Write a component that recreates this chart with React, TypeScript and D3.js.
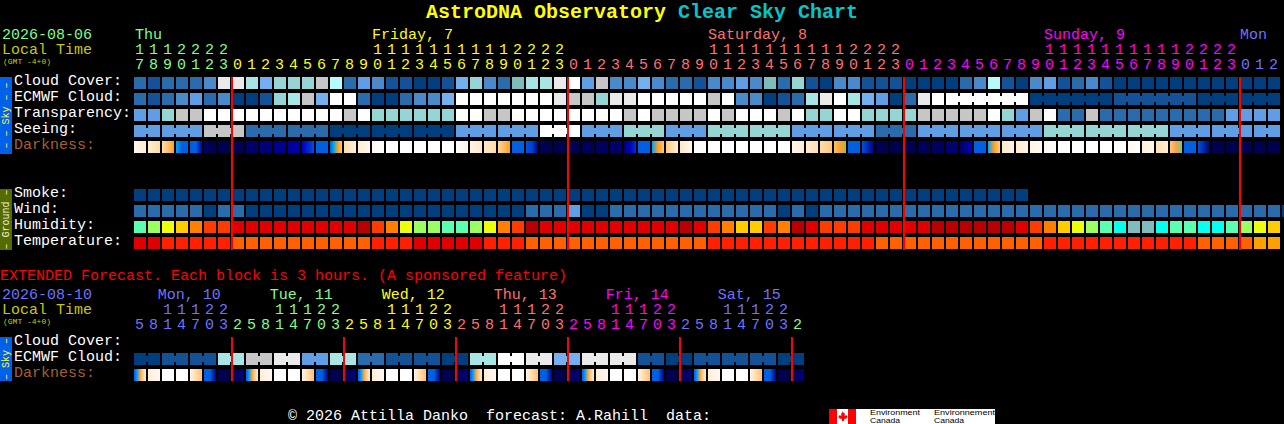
import React from "react";
import * as d3 from "d3";

// ---- palette keys (cloud / transparency / seeing share one scale)
const cloudKeys = ["a","b","c","d","e","f","g","h","i","j","k","l","w"];
const cloudColors = ["#003e7e","#135296","#2a6bac","#4a8acb","#5f9ee4","#74b0f0","#7fbdbd","#95d5d3","#a8e6e6","#b6fbfb","#c6c6c6","#eaeaea","#ffffff"];
const humidKeys = ["c","m","l","y","g","o","r","R","D","t"];
const humidColors = ["#08ffee","#5affb0","#9aff60","#ecff10","#ffcc00","#ff8000","#ff3c00","#e00000","#b80000","#80bcbc"];
const tempKeys = ["R","r","o","p"];
const tempColors = ["#e00000","#ff2000","#ff6000","#ffa000"];

// ---- main forecast (82 hourly columns, starts at 17h)
const startHours = [17,18,19,20,21,22,23,0,1,2,3,4,5,6,7,8,9,10,11,12,13,14,15,16,17,18,19,20,21,22,23,0,1,2,3,4,5,6,7,8,9,10,11,12,13,14,15,16,17,18,19,20,21,22,23,0,1,2,3,4,5,6,7,8,9,10,11,12,13,14,15,16,17,18,19,20,21,22,23,0,1,2];
const hourDayColors = ["#80ff80","#ffff00","#ff7070","#ff00ff","#7070ff"];
const midnightIdx = [7,31,55,79];
const cloudCover = "c b c c c d l l i f h h h k j c e d b b a a b f h d c g i i l w e k d d f d c c b d d e d g c h b a d d b b b a a a a c d j b a d e b c d b a a a a a a a a a a a a".split(" ");
const ecmwf = "c b c d e c d a a b h i k f w w c a a c d d f w w w w w w w l k k h l l w w w w w k w d d a b c i l w i f e a c l w w w w w w w a a a a a a b b b b b b a a a a a a".split(" ");
const ecmwfBlocks = [1,1,1,1,1,1,1,1,1,1,1,1,1,1,1,1,1,1,1,1,1,1,1,1,1,1,1,1,1,1,1,1,1,1,1,1,1,1,1,1,1,1,1,1,1,1,1,1,1,1,1,1,1,1,1,1,1,1,6,6,6,3,3];
const transparency = "e e h k k w w w w w w w w w w k w h h h h h h w w k k w w w w w w w w k w k k k k w k w w w k w h h w w h h h h k k k k k w h e k w c c k c c c c c c c c c e e e e".split(" ");
const seeingBlockVals = "e e k c c a a a e e w e h e h h e e c e e e h h h e e e".split(" ");
const seeingBlocks = [2,3,3,3,3,3,3,3,3,3,3,3,3,3,3,3,3,3,3,3,3,3,3,3,3,3,3,2];
const darkness = [
 "fff8ec ffeed4","ffeed2 ffdcaa","ffdca8 ffc070 ffa020","00a0ff 0060e0 0060e0","0060e0 0060e0 0000a0","000060 000050","000050","000058",
 "000068","000078","00008a","0000a0","0000c0 0020d0 0050e0","0060e0","0060e0 00b0e0 ffa020 ffc870","ffdcaa fff0dc","ffeed4 fff8ec","fff8f0 ffffff",
 "ffffff","ffffff","ffffff","ffffff","ffffff","ffffff fff5e8","fff4e4 ffe8c8","ffeacb ffdcaa","ffd8a0 ffa020","0060e0","0050e0 0040d0 000080","000050","000050","000050",
 "000058","000060","000068","000070 0000c0 0030d0","0060e0","00a0ff ffa020 ffc870","ffcc80 fff0d8","ffe8c8 fff8f0","ffffff","ffffff","ffffff","ffffff","ffffff","ffffff","ffffff",
 "fff6e8 ffecd8","ffedd0 ffdfb8","ffdca8 ffc880","ffc060 ffa030 a0c040","0060e0","0050e0 000080","000050","000050","000050","000058","000060","000070","000060 0000c0","0060e0",
 "00a0ff ffa020 ffd080","fdebc8 fff4e4","ffecd0 fff4e4","fff4e4 fffaf2","fffaf2 ffffff","ffffff","ffffff","ffffff","ffffff","ffffff","fff8ee ffffff","ffefd8 fff8ee","ffe0b0 ffefd8",
 "ffc880 ffa040 60d0a0","0060e0","0050e0 000060","000050","000050","000050","000050","000050"
];
const smoke = "a a a a a a a a a a a a a a a a a a a a a a a a a a a a a a a a a a a a a a a a a a a a a a a a a a a a a a a a a a a a a a a a".split(" ");
const wind = "c c c c c a c c a a a a a a a a a a a a a a a a a a a a c c c e a a c c c c c c c c c c c c a c a c c c c c c c c c c c c c c c c c c c c c c c c c c c c c c c c c a a".split(" ");
const humidity = "m l y g o r r R R R R R R R R R D r o y l l m m l y o r D R R R R R R R R R R D R r o g g r o D R r r r R R R R R D D D D D D R r o g y l m c t t c m m c c m l y g".split(" ");
const temperature = "R R r r r r r o o o o o o o o o o r r r R R R R R r r r o o o o o o o o o o o o o r r r r r r r r r r r r o o o o o o o o o o o o r r r r r r r r r r r o o o o p p".split(" ");

const dayLabels = ["Thu","Friday, 7","Saturday, 8","Sunday, 9","Mon"];
const dayLabelIdx = [0,17,41,65,79];

// ---- extended forecast (48 three-hourly columns)
const extHours = [5,8,11,14,17,20,23,2,5,8,11,14,17,20,23,2,5,8,11,14,17,20,23,2,5,8,11,14,17,20,23,2,5,8,11,14,17,20,23,2,5,8,11,14,17,20,23,2];
const extDayColors = ["#7070ff","#80ff80","#ffff00","#ff7070","#ff00ff","#7070ff","#80ff80"];
const extMidnightIdx = [7,15,23,31,39,47];
const extDayLabels = ["Mon, 10","Tue, 11","Wed, 12","Thu, 13","Fri, 14","Sat, 15"];
const extDayLabelIdx = [1.7,9.7,17.7,25.7,33.7,41.7];
const extEcmwfBlockVals = "a b b i k l e i c b b a i w l f l l b a b b b a".split(" ");
const extBlocks = [2,2,2,2,2,2,2,2,2,2,2,2,2,2,2,2,2,2,2,2,2,2,2,2];
const dkS = "0060e0 00a0ff ffa040 ffd090 ffeed0";
const dkM = "ffeed8 fff8f0";
const dkW = "ffffff";
const dkE = "fff4e4 ffdca8 ffc070";
const dkT = "0060e0 0060e0 000090";
const dkN = "000050";
const dkP = "000050 000080";
const extDarkness = [dkS,dkM,dkW,dkW,dkE,dkT,dkN,dkP,dkS,dkM,dkW,dkW,dkE,dkT,dkN,dkP,dkS,dkM,dkW,dkW,dkE,dkT,dkN,dkP,dkS,dkM,dkW,dkW,dkE,dkT,dkN,dkP,dkS,dkM,dkW,dkW,dkE,dkT,dkN,dkP,dkS,dkM,dkW,dkW,dkE,dkT,dkN,dkP];

const W = 1284, H = 424;
const CELL = 12, PITCH = 14, X0 = 134;
const FONT = "'Liberation Mono', monospace";
const x = d3.scaleLinear().domain([0, 1]).range([X0, X0 + PITCH]);
const rowY = d3.scaleLinear().domain([0, 1]).range([77, 93]);
const groundY = d3.scaleLinear().domain([0, 1]).range([189, 205]);
const extY = d3.scaleLinear().domain([0, 1]).range([337, 353]);

const cloudScale = d3.scaleOrdinal<string, string>().domain(cloudKeys).range(cloudColors);
const humidScale = d3.scaleOrdinal<string, string>().domain(humidKeys).range(humidColors);
const tempScale = d3.scaleOrdinal<string, string>().domain(tempKeys).range(tempColors);

function expand(vals: string[], lengths: number[]) {
  const out: string[] = [];
  lengths.forEach((n, k) => { for (let j = 0; j < n; j++) out.push(vals[k]); });
  return out;
}
// true where a column is joined to its right neighbour (same forecast block)
function links(lengths: number[]) {
  const out: boolean[] = [];
  lengths.forEach((n) => { for (let j = 0; j < n; j++) out.push(j < n - 1); });
  return out;
}

function Row({ values, y, scale, joins }: { values: string[]; y: number; scale: (k: string) => string; joins?: boolean[] }) {
  return (
    <g>
      {values.map((v, i) => (
        <g key={i}>
          <rect x={x(i)} y={y} width={CELL} height={CELL} fill={scale(v)} />
          {joins && joins[i] && <rect x={x(i) + CELL} y={y + 3} width={PITCH - CELL} height={CELL - 6} fill={scale(v)} />}
        </g>
      ))}
    </g>
  );
}

function DarkRow({ cells, y, id }: { cells: string[]; y: number; id: string }) {
  return (
    <g>
      <defs>
        {cells.map((c, i) => {
          const parts = c.split(" ");
          if (parts.length < 2) return null;
          return (
            <linearGradient key={i} id={`${id}${i}`} x1="0" x2="1" y1="0" y2="0">
              {parts.map((p, j) => <stop key={j} offset={j / (parts.length - 1)} stopColor={`#${p}`} />)}
            </linearGradient>
          );
        })}
      </defs>
      {cells.map((c, i) => {
        const parts = c.split(" ");
        return <rect key={i} x={x(i)} y={y} width={CELL} height={CELL} fill={parts.length < 2 ? `#${parts[0]}` : `url(#${id}${i})`} />;
      })}
    </g>
  );
}

function T({ x: tx, y, fill, children, size = 15, anchor = "start", weight = "normal" }: any) {
  return <text x={tx} y={y} fill={fill} fontSize={size} fontFamily={FONT} textAnchor={anchor} fontWeight={weight} style={{ whiteSpace: "pre" }}>{children}</text>;
}

function Hours({ hours, colorAt, y10, y1 }: { hours: number[]; colorAt: (i: number) => string; y10: number; y1: number }) {
  return (
    <g>
      {hours.map((h, i) => (
        <g key={i}>
          {h >= 10 && <T x={x(i) + 5.5} y={y10} fill={colorAt(i)} anchor="middle">{Math.floor(h / 10)}</T>}
          <T x={x(i) + 5.5} y={y1} fill={colorAt(i)} anchor="middle">{h % 10}</T>
        </g>
      ))}
    </g>
  );
}

function Side({ y, h, fill, color, label }: { y: number; h: number; fill: string; color: string; label: string }) {
  const cy = y + h / 2;
  return (
    <g>
      <rect x={0} y={y} width={12} height={h} fill={fill} />
      <text transform={`translate(9,${cy}) rotate(-90)`} fill={color} fontSize={10} fontFamily={FONT} textAnchor="middle" style={{ whiteSpace: "pre" }}>{label}</text>
    </g>
  );
}

const mainLabels = ["Cloud Cover:", "ECMWF Cloud:", "Transparency:", "Seeing:", "Darkness:"];
const groundLabels = ["Smoke:", "Wind:", "Humidity:", "Temperature:"];
const extLabels = ["Cloud Cover:", "ECMWF Cloud:", "Darkness:"];
const BROWN = "#a5602e";

export default function App() {
  const mainColor = (i: number) => hourDayColors[d3.bisectRight(midnightIdx, i)];
  const extColor = (i: number) => extDayColors[d3.bisectRight(extMidnightIdx, i)];
  return (
    <svg width={W} height={H} viewBox={`0 0 ${W} ${H}`} style={{ position: "fixed", left: 0, top: 0, display: "block" }}>
      <rect width={W} height={H} fill="#000" />
      <T x={426} y={18} fill="#ffff00" size={20} weight="bold">AstroDNA Observatory</T>
      <T x={678} y={18} fill="#00c8c8" size={20} weight="bold">Clear Sky Chart</T>

      <T x={2} y={39} fill="#80ff80">2026-08-06</T>
      <T x={2} y={54} fill="#c8c800">Local Time</T>
      <T x={3} y={64} fill="#c8c800" size={8}>(GMT -4+0)</T>
      {dayLabels.map((d, k) => <T key={d} x={x(dayLabelIdx[k]) + (k === 0 ? 1 : 0)} y={39} fill={hourDayColors[k]}>{d}</T>)}
      <Hours hours={startHours} colorAt={mainColor} y10={54} y1={69} />

      <Side y={77} h={77} fill="#0060e8" color="#ffff40" label="– – Sky – –" />
      {mainLabels.map((l, k) => <T key={l} x={14} y={rowY(k) + 8} fill={k === 4 ? BROWN : "#ffffff"}>{l}</T>)}
      <Row values={cloudCover} y={rowY(0)} scale={cloudScale} />
      <Row values={ecmwf} y={rowY(1)} scale={cloudScale} joins={links(ecmwfBlocks)} />
      <Row values={transparency} y={rowY(2)} scale={cloudScale} />
      <Row values={expand(seeingBlockVals, seeingBlocks)} y={rowY(3)} scale={cloudScale} joins={links(seeingBlocks)} />
      <DarkRow cells={darkness} y={rowY(4)} id="dk" />

      <Side y={189} h={61} fill="#556b00" color="#f0f0d0" label="– Ground –" />
      {groundLabels.map((l, k) => <T key={l} x={14} y={groundY(k) + 8} fill="#ffffff">{l}</T>)}
      <Row values={smoke} y={groundY(0)} scale={cloudScale} />
      <Row values={wind} y={groundY(1)} scale={cloudScale} />
      <Row values={humidity} y={groundY(2)} scale={humidScale} />
      <Row values={temperature} y={groundY(3)} scale={tempScale} />

      {midnightIdx.map((i) => <rect key={i} x={x(i) - 1} y={77} width={2} height={173} fill="#ff0000" />)}

      <T x={0} y={280} fill="#ff0000">EXTENDED Forecast. Each block is 3 hours. (A sponsored feature)</T>
      <T x={2} y={299} fill="#7070ff">2026-08-10</T>
      <T x={2} y={314} fill="#c8c800">Local Time</T>
      <T x={3} y={324} fill="#c8c800" size={8}>(GMT -4+0)</T>
      {extDayLabels.map((d, k) => <T key={d} x={x(extDayLabelIdx[k])} y={299} fill={extDayColors[k]}>{d}</T>)}
      <Hours hours={extHours} colorAt={extColor} y10={314} y1={329} />

      <Side y={337} h={44} fill="#0060e8" color="#ffff40" label="– Sky –" />
      {extLabels.map((l, k) => <T key={l} x={14} y={extY(k) + 8} fill={k === 2 ? BROWN : "#ffffff"}>{l}</T>)}
      <Row values={expand(extEcmwfBlockVals, extBlocks)} y={extY(1)} scale={cloudScale} joins={links(extBlocks)} />
      <DarkRow cells={extDarkness} y={extY(2)} id="edk" />
      {extMidnightIdx.map((i) => <rect key={i} x={x(i) - 1} y={337} width={2} height={44} fill="#ff0000" />)}

      <T x={288} y={420} fill="#ffffff">© 2026 Attilla Danko  forecast: A.Rahill  data:</T>
      <g>
        <rect x={829} y={409} width={166} height={15} fill="#ffffff" />
        <rect x={829} y={409} width={8} height={15} fill="#ff0000" />
        <rect x={848} y={409} width={8} height={15} fill="#ff0000" />
        <path d="M842.5 411l1.5 2.5 1-.5-.5 3 2-1 .5 1.5 1 0-1.5 2-2.5.5 0 2-2 0 0-2-2.5-.5-1.5-2 1 0 .5-1.5 2 1-.5-3 1 .5z" fill="#ff0000" />
        <text x={870} y={415} fontSize={8} fontFamily="'Liberation Sans', sans-serif" fill="#000" textLength={50} lengthAdjust="spacingAndGlyphs">Environment</text>
        <text x={870} y={423} fontSize={8} fontFamily="'Liberation Sans', sans-serif" fill="#000" textLength={30} lengthAdjust="spacingAndGlyphs">Canada</text>
        <text x={934} y={415} fontSize={8} fontFamily="'Liberation Sans', sans-serif" fill="#000" textLength={61} lengthAdjust="spacingAndGlyphs">Environnement</text>
        <text x={934} y={423} fontSize={8} fontFamily="'Liberation Sans', sans-serif" fill="#000" textLength={30} lengthAdjust="spacingAndGlyphs">Canada</text>
      </g>
    </svg>
  );
}
